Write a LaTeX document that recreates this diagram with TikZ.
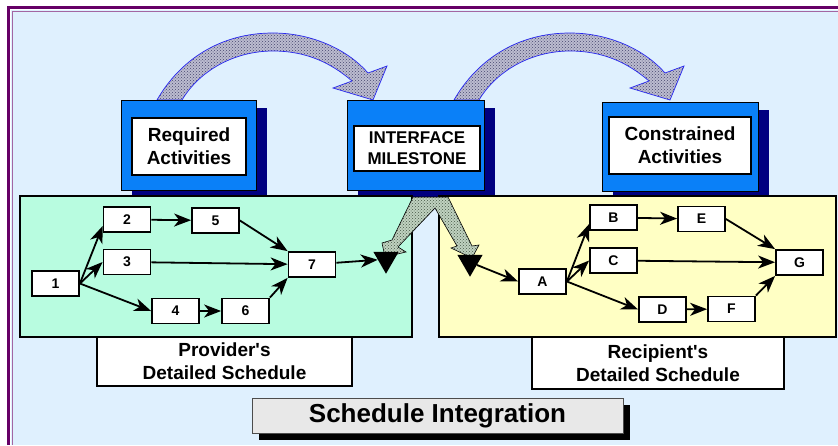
\documentclass[tikz,border=0pt]{standalone}
\usepackage{fontspec}
\setmainfont{Liberation Sans}
\usepackage{tikz}
\usetikzlibrary{shapes,arrows,arrows.meta,positioning,calc,patterns,shadows}
\definecolor{frameViolet}{HTML}{660066}
\definecolor{paleSky}{HTML}{DFF0FE}
\definecolor{brightBlue}{HTML}{0A80F8}
\definecolor{deepNavy}{HTML}{000080}
\definecolor{mintGreen}{HTML}{B8FCE0}
\definecolor{paleYellow}{HTML}{FFFFC4}
\definecolor{arcBlue}{HTML}{2828F0}
\definecolor{arcFill}{HTML}{BCBCD0}
\definecolor{arcDots}{HTML}{46466E}
\definecolor{chevFill}{HTML}{C0D2C0}
\definecolor{chevDots}{HTML}{465846}
\definecolor{titleGray}{HTML}{E8E8E8}

\begin{document}
\begin{tikzpicture}[
            x=1pt, y=-1pt,
            bluebox/.style={
                    rectangle,
                    draw=black,
                    line width=0.6pt,
                    fill=brightBlue,
                    inner sep=0pt,
                    drop shadow={shadow xshift=11pt, shadow yshift=-8pt, fill=deepNavy, opacity=1}
                },
            caption/.style={
                    rectangle,
                    draw=black,
                    line width=1.6pt,
                    fill=white,
                    inner sep=0pt,
                    align=center,
                    font=\fontsize{19}{23}\selectfont\bfseries
                },
            task/.style={
                    rectangle,
                    draw=black,
                    line width=1.8pt,
                    fill=white,
                    minimum width=47pt,
                    minimum height=25pt,
                    inner sep=0pt,
                    font=\fontsize{14}{16}\selectfont\bfseries
                },
            panel/.style={rectangle, draw=black, line width=1.6pt, inner sep=0pt},
            milestone/.style={
                    regular polygon,
                    regular polygon sides=3,
                    shape border rotate=180,
                    fill=black,
                    minimum size=29pt,
                    inner sep=0pt
                },
            flow/.style={-{Stealth[length=17pt,width=13pt,inset=5pt]}, line width=1.8pt},
            hatchup/.style={draw=arcBlue, line width=0.7pt, preaction={fill=arcFill},
                    pattern=crosshatch dots, pattern color=arcDots},
            hatchdown/.style={draw=black, line width=0.6pt, preaction={fill=chevFill},
                    pattern=crosshatch dots, pattern color=chevDots},
            bendarrow/.pic={
                    \draw[hatchup] (157,100) .. controls (180,60) and (220,33) .. (273,33)
                        .. controls (315,33) and (350,52) .. (368,73) -- (387,66) -- (373,100)
                        -- (333,88) -- (352,81) .. controls (330,62) and (305,51) .. (273,51)
                        .. controls (235,51) and (200,70) .. (182,100) -- cycle;
                }
        ]
        \useasboundingbox (0,0) rectangle (838,445);
        % page and frame
        \fill[paleSky] (11,10) rectangle (838,445);
        \draw[frameViolet, line width=2.5pt] (8.5,445) -- (8.5,7.5) -- (838,7.5);
        \draw[frameViolet!60, line width=0.8pt] (12,445) -- (12,11) -- (838,11);

        % curved arrows between the top boxes
        \pic at (0,0) {bendarrow};
        \pic at (297,0) {bendarrow};

        % top boxes
        \node[bluebox, minimum width=135pt, minimum height=90pt] (reqBox) at (188.5,145) {};
        \node[caption, minimum width=114pt, minimum height=57pt] (reqTxt) at (189,146.5) {Required\\Activities};
        \node[bluebox, minimum width=137pt, minimum height=90pt] (ifBox) at (415.5,145) {};
        \node[caption, minimum width=126pt, minimum height=45pt, font=\fontsize{17}{21}\selectfont\bfseries] (ifTxt) at (417,148.5) {INTERFACE\\MILESTONE};
        \node[bluebox, minimum width=156pt, minimum height=89pt] (conBox) at (680,146.5) {};
        \node[caption, minimum width=142pt, minimum height=57pt] (conTxt) at (680,145.5) {Constrained\\Activities};

        % schedule panels
        \node[panel, fill=mintGreen, minimum width=392pt, minimum height=141pt] (provider) at (216,266.5) {};
        \node[panel, fill=paleYellow, minimum width=397pt, minimum height=141pt] (recipient) at (637.5,266.5) {};
        \node[caption, minimum width=255pt, minimum height=49pt] (providerLbl) at (224.5,361.5) {Provider\textquotesingle s\\Detailed Schedule};
        \node[caption, minimum width=252pt, minimum height=52pt] (recipientLbl) at (658,363) {Recipient\textquotesingle s\\Detailed Schedule};

        % milestone split arrow
        \draw[hatchdown] (413,197) -- (392,240) -- (382,243) -- (385,257) -- (406,252) -- (398,247)
            -- (435,208) -- (457,246) -- (451,248) -- (472,258) -- (479,245) -- (472,246) -- (448,197) -- cycle;

        % provider network
        \node[task] (n1) at (55.5,283.5) {1};
        \node[task] (n2) at (127,219.5) {2};
        \node[task] (n3) at (127,262) {3};
        \node[task] (n5) at (215.5,220.5) {5};
        \node[task] (n7) at (312,264.5) {7};
        \node[task] (n4) at (175.5,311) {4};
        \node[task] (n6) at (245.5,311) {6};
        \node[milestone] (msL) at (386,259.2) {};

        \draw[flow] (n1.east) -- (n2.195);
        \draw[flow] (n1.east) -- (n3.west);
        \draw[flow] (n1.east) -- (n4.west);
        \draw[flow] (n2) -- (n5);
        \draw[flow] (n5.east) -- (n7.north west);
        \draw[flow] (n3) -- (n7);
        \draw[flow] (n4) -- (n6);
        \draw[flow] (n6.north east) -- (n7.south west);
        \draw[flow] (n7) -- (msL);

        % recipient network
        \node[milestone] (msR) at (470,262.2) {};
        \node[task] (nA) at (542.5,281.5) {A};
        \node[task] (nB) at (613.5,217.5) {B};
        \node[task] (nC) at (613.5,260.5) {C};
        \node[task] (nE) at (701.5,219) {E};
        \node[task] (nG) at (799.5,262.5) {G};
        \node[task] (nD) at (662.5,309.5) {D};
        \node[task] (nF) at (731.5,309) {F};

        \draw[flow] (msR) -- (nA.west);
        \draw[flow] (nA.east) -- (nB.195);
        \draw[flow] (nA.east) -- (nC.west);
        \draw[flow] (nA.east) -- (nD.west);
        \draw[flow] (nB) -- (nE);
        \draw[flow] (nE.east) -- (nG.north west);
        \draw[flow] (nC) -- (nG);
        \draw[flow] (nD) -- (nF);
        \draw[flow] (nF.north east) -- (nG.south west);

        % title
        \node[rectangle, draw=black!70, line width=0.8pt, fill=titleGray, minimum width=371pt, minimum height=35pt,
            inner sep=0pt, font=\fontsize{26}{30}\selectfont\bfseries,
            drop shadow={shadow xshift=7pt, shadow yshift=-7pt, fill=black, opacity=1}] (title) at (437.5,415.5) {Schedule Integration};
    \end{tikzpicture}
\end{document}
